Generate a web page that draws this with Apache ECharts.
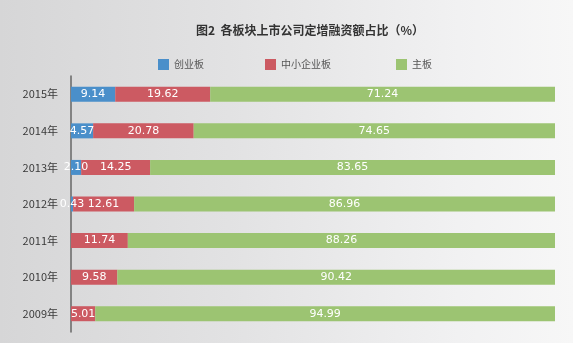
<!DOCTYPE html>
<html><head><meta charset="utf-8">
<script src="https://cdn.jsdelivr.net/npm/echarts@6/dist/echarts.min.js"></script>
<style>
html,body{margin:0;padding:0;}
#c{width:573px;height:343px;background:linear-gradient(to right,#d6d6d7 0%,#e2e2e3 40%,#f1f1f2 80%,#f7f7f7 100%);}
</style></head><body>
<div id="c"></div>
<script>
const categories = ['2009年','2010年','2011年','2012年','2013年','2014年','2015年'];
const seriesNames = ['创业板','中小企业板','主板'];
const chuangye = [0, 0, 0, 0.43, 2.10, 4.57, 9.14];
const zhongxiao = [5.01, 9.58, 11.74, 12.61, 14.25, 20.78, 19.62];
const zhuban = [94.99, 90.42, 88.26, 86.96, 83.65, 74.65, 71.24];

const font = '"Noto Sans CJK SC", "Noto Sans", sans-serif';
const chart = echarts.init(document.getElementById('c'), null, {renderer:'canvas'});
const lbl = {
  show: true, position: 'inside', color: '#fff', fontSize: 11, fontFamily: '"DejaVu Sans", sans-serif',
  formatter: p => p.value > 0 ? p.value.toFixed(2) : ''
};
const legendLeft = [153, 260, 391];
const colors = ['#4a8fca','#cc5a62','#9cc472'];
chart.setOption({
  animation: false,
  title: {
    text: '图2  各板块上市公司定增融资额占比（%）',
    left: 191, top: 19,
    textStyle: {fontSize: 12, fontWeight: 'bold', color: '#333', fontFamily: font}
  },
  legend: seriesNames.map((n, i) => ({
    left: legendLeft[i], top: 54, itemWidth: 11, itemHeight: 11, icon: 'rect',
    textStyle: {fontSize: 10, color: '#555', fontFamily: font},
    data: [n]
  })),
  grid: {left: 71, right: 18, top: 76, height: 256, containLabel: false},
  xAxis: {type: 'value', min: 0, max: 100, show: false},
  yAxis: {
    type: 'category', data: categories,
    axisLine: {show: true, lineStyle: {color: '#666', width: 1.5}},
    axisTick: {show: false},
    axisLabel: {color: '#3a3a3a', fontSize: 11, fontFamily: font, margin: 13}
  },
  series: [
    {name: seriesNames[0], type: 'bar', stack: 's', data: chuangye, barWidth: 15, itemStyle: {color: colors[0]}, label: lbl},
    {name: seriesNames[1], type: 'bar', stack: 's', data: zhongxiao, barWidth: 15, itemStyle: {color: colors[1]}, label: lbl},
    {name: seriesNames[2], type: 'bar', stack: 's', data: zhuban, barWidth: 15, itemStyle: {color: colors[2]}, label: lbl}
  ]
});
</script></body></html>
